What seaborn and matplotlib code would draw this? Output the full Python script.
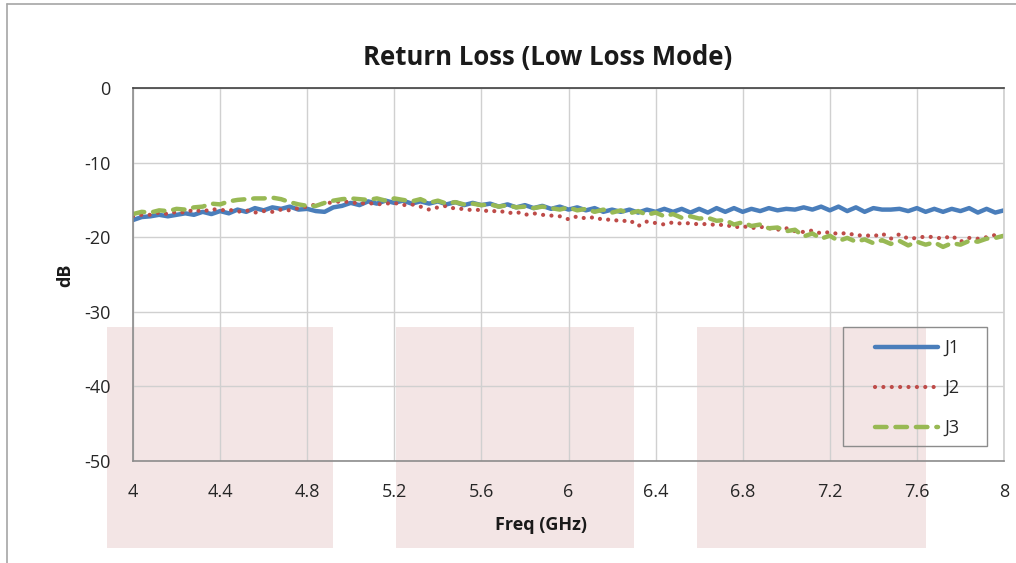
import numpy as np
import pandas as pd
import matplotlib
matplotlib.use("Agg")
import matplotlib.pyplot as plt
from matplotlib.patches import Rectangle
from matplotlib.lines import Line2D
import seaborn as sns

freq = [round(4 + 0.04 * i, 2) for i in range(101)]

j1 = [-17.7, -17.3, -17.2, -17.0, -17.2, -17.0, -16.8, -17.0, -16.6, -16.9,
      -16.5, -16.8, -16.3, -16.6, -16.1, -16.4, -16.0, -16.2, -15.9, -16.3,
      -16.2, -16.5, -16.6, -16.0, -15.8, -15.4, -15.7, -15.2, -15.5, -15.1,
      -15.4, -15.1, -15.5, -15.2, -15.5, -15.2, -15.6, -15.3, -15.7, -15.4,
      -15.7, -15.5, -15.9, -15.6, -16.0, -15.7, -16.1, -15.8, -16.2, -15.9,
      -16.3, -16.0, -16.4, -16.1, -16.6, -16.3, -16.6, -16.3, -16.7, -16.3,
      -16.6, -16.2, -16.6, -16.2, -16.7, -16.2, -16.7, -16.1, -16.6, -16.1,
      -16.6, -16.2, -16.5, -16.1, -16.4, -16.2, -16.3, -16.0, -16.3, -15.9,
      -16.4, -15.9, -16.5, -16.0, -16.6, -16.1, -16.3, -16.3, -16.2, -16.5,
      -16.1, -16.6, -16.2, -16.6, -16.2, -16.5, -16.1, -16.7, -16.2, -16.7,
      -16.4]

j2 = [-17.2, -17.0, -17.0, -16.7, -16.9, -16.6, -16.7, -16.3, -16.6, -16.2,
      -16.4, -16.3, -16.6, -16.4, -16.7, -16.5, -16.6, -16.3, -16.4, -16.1,
      -15.9, -15.6, -15.5, -15.3, -15.2, -15.3, -15.5, -15.4, -15.6, -15.5,
      -15.4, -15.7, -15.6, -15.9, -16.3, -16.0, -15.8, -16.2, -16.2, -16.4,
      -16.3, -16.6, -16.4, -16.8, -16.6, -17.0, -16.8, -17.0, -17.1, -17.2,
      -17.6, -17.2, -17.5, -17.3, -17.7, -17.6, -17.9, -17.7, -18.5, -17.9,
      -18.1, -18.3, -18.0, -18.2, -18.1, -18.3, -18.2, -18.4, -18.3, -18.7,
      -18.5, -18.8, -18.6, -18.8, -19.0, -18.8, -19.2, -19.3, -19.1, -19.5,
      -19.3, -19.6, -19.4, -19.8, -19.7, -19.9, -19.5, -20.2, -19.6, -20.2,
      -20.1, -19.9, -20.0, -20.2, -19.8, -20.6, -20.1, -20.2, -20.0, -19.7,
      -19.9]

j3 = [-16.9, -16.6, -16.7, -16.4, -16.5, -16.2, -16.3, -16.0, -15.9, -15.5,
      -15.6, -15.2, -15.0, -14.9, -14.8, -14.8, -14.7, -14.9, -15.3, -15.6,
      -15.8, -15.8, -15.4, -15.1, -14.9, -14.8, -14.9, -15.0, -14.8, -15.1,
      -14.8, -15.0, -15.2, -14.9, -15.4, -15.1, -15.5, -15.3, -15.6, -15.5,
      -15.7, -15.6, -15.9, -15.7, -16.0, -15.9, -16.1, -15.9, -16.1, -16.3,
      -16.0, -16.4, -16.2, -16.6, -16.3, -16.7, -16.4, -16.8, -16.5, -17.0,
      -16.7, -17.2, -16.9, -17.4, -17.2, -17.5, -17.4, -17.8, -17.7, -18.3,
      -18.0, -18.5, -18.3, -18.8, -18.7, -19.2, -19.0, -19.9, -19.5, -20.2,
      -19.8, -20.5, -20.1, -20.6, -20.3, -20.8, -20.4, -20.9, -20.5, -21.1,
      -20.6, -21.0, -20.7, -21.3, -20.8, -21.0, -20.5, -20.6, -20.2, -20.1,
      -19.8]

series_names = ["J1", "J2", "J3"]
x_ticks = [4, 4.4, 4.8, 5.2, 5.6, 6, 6.4, 6.8, 7.2, 7.6, 8]
x_tick_labels = ["4", "4.4", "4.8", "5.2", "5.6", "6", "6.4", "6.8", "7.2", "7.6", "8"]
y_ticks = [0, -10, -20, -30, -40, -50]

df = pd.DataFrame({
    "freq": freq * 3,
    "dB": j1 + j2 + j3,
    "series": ["J1"] * len(j1) + ["J2"] * len(j2) + ["J3"] * len(j3),
})

sns.set_theme(style="white")
plt.rcParams["font.family"] = ["Open Sans", "DejaVu Sans"]
plt.rcParams["axes.unicode_minus"] = False

W, H = 1016, 563
fig = plt.figure(figsize=(W / 100, H / 100), dpi=100)
fig.patch.set_facecolor("white")

def fx(px):
    return px / W

def fy(py):
    return 1 - py / H

# pink background blocks
pink = "#f3e5e5"
for (x0, x1) in [(107, 333), (396, 634), (697, 926)]:
    fig.patches.append(Rectangle((fx(x0), fy(548)), (x1 - x0) / W, (548 - 327) / H,
                                 transform=fig.transFigure, facecolor=pink,
                                 edgecolor="none", zorder=-5))
# outer frame (left and top edges)
fig.add_artist(Line2D([fx(7), fx(7)], [0, fy(4)], transform=fig.transFigure,
                      color="#a6a6a6", lw=1.2, zorder=-4))
fig.add_artist(Line2D([fx(7), 1.0], [fy(4), fy(4)], transform=fig.transFigure,
                      color="#a6a6a6", lw=1.2, zorder=-4))

ax = fig.add_axes([fx(133), fy(461), (1004 - 133) / W, (461 - 88) / H])
ax.set_facecolor("none")

colors = {"J1": "#4a7ebb", "J2": "#be4b48", "J3": "#98b954"}
sns.lineplot(data=df, x="freq", y="dB", hue="series", palette=colors,
             hue_order=series_names, ax=ax, legend=False, estimator=None, sort=False)

styles = {
    "J1": dict(linestyle="-", linewidth=3.2),
    "J2": dict(linestyle=(0, (0.01, 2.0)), linewidth=3.0),
    "J3": dict(linestyle=(0, (2.6, 2.0)), linewidth=3.2),
}
for line, name in zip(ax.lines, series_names):
    line.set_linestyle(styles[name]["linestyle"])
    line.set_linewidth(styles[name]["linewidth"])
    line.set_dash_capstyle("round")
    line.set_solid_capstyle("round")
    line.set_label(name)

ax.set_xlim(4, 8)
ax.set_ylim(-50, 0)
ax.set_xticks(x_ticks)
ax.set_xticklabels(x_tick_labels)
ax.set_yticks(y_ticks)
ax.set_xlabel("")
ax.set_ylabel("")
ax.grid(True, color="#d0d0d0", linewidth=1.0)
ax.set_axisbelow(True)
for s in ["left", "bottom"]:
    ax.spines[s].set_color("#8c8c8c")
    ax.spines[s].set_linewidth(1.2)
ax.spines["top"].set_color("#404040")
ax.spines["top"].set_linewidth(1.2)
ax.spines["right"].set_color("#d0d0d0")
ax.tick_params(axis="both", length=0, labelsize=13, colors="#262626")
ax.tick_params(axis="x", pad=16)
ax.tick_params(axis="y", pad=16)

fig.text(fx(548), fy(57), "Return Loss (Low Loss Mode)", fontsize=18.5, fontweight="bold",
         color="#1a1a1a", ha="center", va="center")
fig.text(fx(541), fy(525), "Freq (GHz)", fontsize=13, fontweight="bold",
         color="#1a1a1a", ha="center", va="center")
fig.text(fx(65), fy(275), "dB", fontsize=13, fontweight="bold",
         color="#1a1a1a", ha="center", va="center", rotation=90)

# legend (frame drawn separately to match the wide padding)
fig.patches.append(Rectangle((fx(843), fy(446)), (987 - 843) / W, (446 - 327) / H,
                             transform=fig.transFigure, facecolor="none",
                             edgecolor="#8c8c8c", linewidth=1.0, zorder=5))
leg = ax.legend(loc="upper left", bbox_to_anchor=(fx(873 - 7), fy(327 + 3)),
                bbox_transform=fig.transFigure,
                fontsize=13, frameon=False, handlelength=3.5,
                labelspacing=1.22, borderpad=0.5, handletextpad=0.35, borderaxespad=0)

fig.savefig("out.png", dpi=100)
